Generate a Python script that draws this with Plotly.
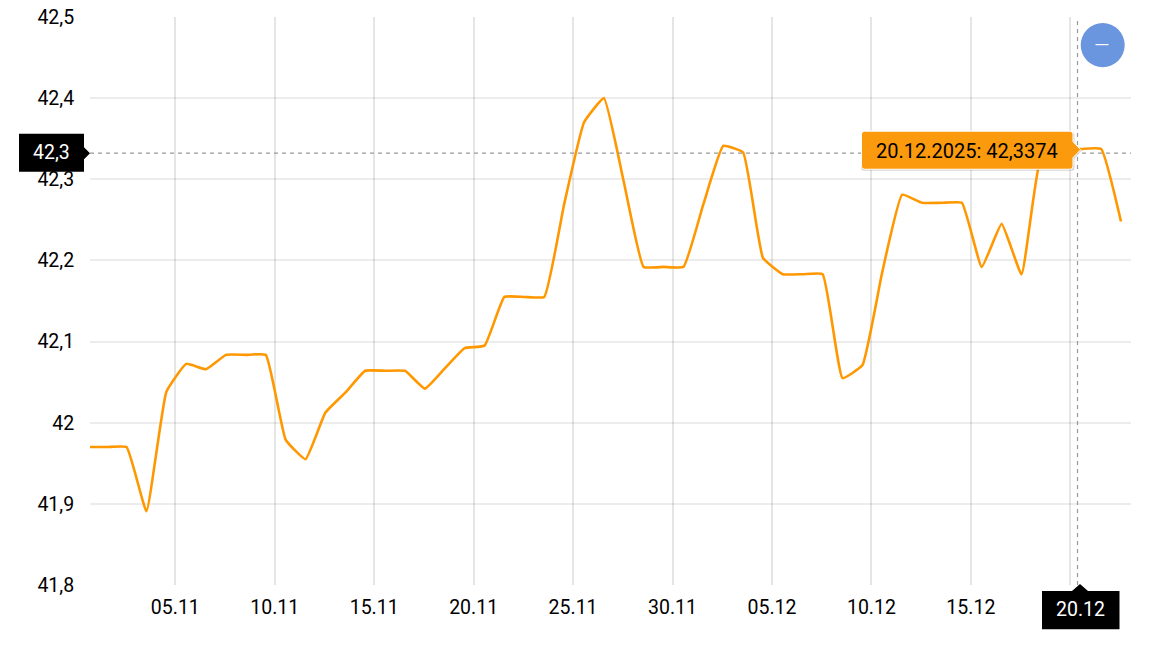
import datetime as dt
import plotly.graph_objects as go

# ---- data ----
start = dt.datetime(2025, 10, 31, 13, 10)
values = [41.97, 41.97, 41.97, 41.891, 42.038, 42.0725, 42.066, 42.0836, 42.0836, 42.0836,
          41.979, 41.955, 42.0125, 42.037, 42.064, 42.064, 42.064, 42.042, 42.067, 42.092,
          42.095, 42.155, 42.155, 42.155, 42.269, 42.37, 42.4, 42.297, 42.192, 42.192,
          42.192, 42.269, 42.341, 42.333, 42.203, 42.183, 42.183, 42.183, 42.055, 42.071,
          42.186, 42.281, 42.271, 42.271, 42.271, 42.192, 42.245, 42.183, 42.33, 42.3374,
          42.3374, 42.3374, 42.248]
dates = [start + dt.timedelta(days=i) for i in range(len(values))]
x_ticks = [dt.datetime(2025, 11, 5), dt.datetime(2025, 11, 10), dt.datetime(2025, 11, 15),
           dt.datetime(2025, 11, 20), dt.datetime(2025, 11, 25), dt.datetime(2025, 11, 30),
           dt.datetime(2025, 12, 5), dt.datetime(2025, 12, 10), dt.datetime(2025, 12, 15),
           dt.datetime(2025, 12, 20)]
x_labels = ["05.11", "10.11", "15.11", "20.11", "25.11", "30.11", "05.12", "10.12", "15.12", ""]
y_ticks = [41.8, 41.9, 42, 42.1, 42.2, 42.3, 42.4, 42.5]
y_labels = ["41,8", "41,9", "42", "42,1", "42,2", "42,3", "42,4", "42,5"]
tooltip_text = "20.12.2025: 42,3374"
y_cross_text = "42,3"
x_cross_text = "20.12"

# ---- layout ----
W, H = 1160, 646
L, R, T, B = 90, 1131, 17.4, 584.9
FONT = "Roboto"
FS = 19.5
ORANGE = "#ff9800"


def fx(p):
    return (p - L) / (R - L)


def fy(p):
    return (B - p) / (B - T)


def path(points, close=True):
    s = "M" + " L".join(f"{fx(a):.5f},{fy(b):.5f}" for a, b in points)
    return s + (" Z" if close else "")


def rounded_tip(x0, y0, x1, y1, tipx, tipy, r=3):
    q = lambda a, b: f"{fx(a):.5f},{fy(b):.5f}"
    return (f"M{q(x0 + r, y0)} L{q(x1 - r, y0)} Q{q(x1, y0)} {q(x1, y0 + r)} "
            f"L{q(x1, tipy - 8)} L{q(tipx, tipy)} L{q(x1, tipy + 8)} L{q(x1, y1 - r)} "
            f"Q{q(x1, y1)} {q(x1 - r, y1)} L{q(x0 + r, y1)} Q{q(x0, y1)} {q(x0, y1 - r)} "
            f"L{q(x0, y0 + r)} Q{q(x0, y0)} {q(x0 + r, y0)} Z")


def shp(**kw):
    return dict(xref="paper", yref="paper", **kw)


shapes = [
    # crosshair
    shp(type="line", x0=0, x1=1, y0=fy(153.5), y1=fy(153.5),
        line=dict(color="#999999", width=1.2, dash="4px,4px")),
    shp(type="line", x0=fx(1077.5), x1=fx(1077.5), y0=0, y1=1,
        line=dict(color="#999999", width=1.2, dash="4px,4px")),
    # minus button
    shp(type="circle", x0=fx(1080.7), x1=fx(1124.7), y0=fy(23.5), y1=fy(67.5),
        fillcolor="#6a95df", line=dict(width=0)),
    shp(type="line", x0=fx(1095.5), x1=fx(1108.5), y0=fy(45), y1=fy(45),
        line=dict(color="#ffffff", width=1.2)),
    # tooltip shadow + body
    shp(type="path", path=rounded_tip(861, 132.5, 1074.5, 171, 1081.5, 151),
        fillcolor="rgba(0,0,0,0.16)", line=dict(width=0)),
    shp(type="path", path=rounded_tip(861.5, 131.5, 1073, 169.5, 1080.7, 150),
        fillcolor="#fb9a0c", line=dict(color="#ffffff", width=1)),
    # y crosshair label
    shp(type="path", path=path([(19, 134), (84, 134), (84, 147.5), (90, 153.5), (84, 159.5), (84, 172), (19, 172)]),
        fillcolor="#000000", line=dict(width=0)),
    # x crosshair label
    shp(type="path", path=path([(1042, 591), (1072, 591), (1080, 584), (1088, 591), (1119.5, 591), (1119.5, 629), (1042, 629)]),
        fillcolor="#000000", line=dict(width=0)),
]

annotations = [
    dict(xref="paper", yref="paper", x=fx(967), y=fy(151.5), text=tooltip_text, showarrow=False,
         font=dict(family=FONT, size=20, color="#000000"), xanchor="center", yanchor="middle"),
    dict(xref="paper", yref="paper", x=fx(51), y=fy(152.8), text=y_cross_text, showarrow=False,
         font=dict(family=FONT, size=FS, color="#ffffff"), xanchor="center", yanchor="middle"),
    dict(xref="paper", yref="paper", x=fx(1080.5), y=fy(609.5), text=x_cross_text, showarrow=False,
         font=dict(family=FONT, size=FS, color="#ffffff"), xanchor="center", yanchor="middle"),
]

fig = go.Figure(go.Scatter(
    x=dates, y=values, mode="lines",
    line=dict(color=ORANGE, width=2.6, shape="spline", smoothing=0.35),
    hoverinfo="skip", showlegend=False,
))

fig.update_layout(
    width=W, height=H, autosize=False,
    margin=dict(l=L, r=W - R, t=T, b=H - B, pad=0),
    paper_bgcolor="#ffffff", plot_bgcolor="#ffffff",
    font=dict(family=FONT, size=FS, color="#000000"),
    shapes=shapes, annotations=annotations,
    xaxis=dict(type="date", range=[dt.datetime(2025, 10, 31, 17, 4), dt.datetime(2025, 12, 23, 1, 15)],
               tickmode="array", tickvals=x_ticks, ticktext=x_labels,
               showgrid=True, gridcolor="rgba(0,0,0,0.10)", gridwidth=2, showline=False, zeroline=False,
               ticks="outside", ticklen=5, tickcolor="rgba(0,0,0,0)", automargin=False,
               tickfont=dict(family=FONT, size=FS, color="#000000")),
    yaxis=dict(range=[41.8, 42.5], tickmode="array", tickvals=y_ticks, ticktext=y_labels,
               showgrid=True, gridcolor="rgba(0,0,0,0.075)", gridwidth=2, showline=False, zeroline=False,
               ticks="outside", ticklen=11, tickcolor="rgba(0,0,0,0)", automargin=False,
               tickfont=dict(family=FONT, size=FS, color="#000000")),
)

fig.write_html("out.html", post_script="document.body.style.margin='0';", config=dict(displayModeBar=False))
